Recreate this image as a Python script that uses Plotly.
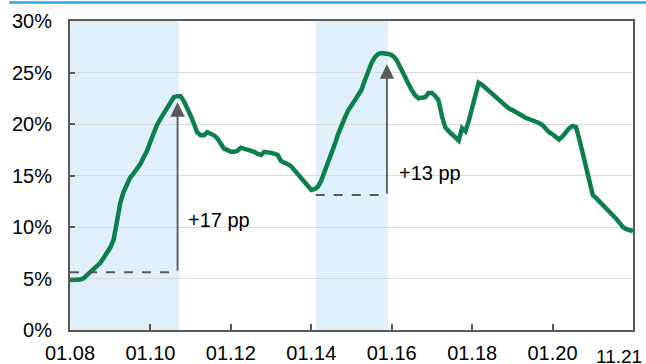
import pandas as pd
import plotly.graph_objects as go

# ---- data ----
start_month = "2008-01-01"
values = [
    4.85, 4.85, 4.9, 4.9, 5.0, 5.3, 5.5, 5.9, 6.2, 6.5,
    7.0, 7.5, 8.0, 8.8, 10.5, 12.3, 13.4, 14.2, 14.8, 15.2,
    15.6, 16.1, 16.8, 17.4, 18.3, 19.2, 19.9, 20.5, 21.0, 21.6,
    22.2, 22.6, 22.7, 22.7, 22.2, 21.6, 20.8, 20.0, 19.2, 18.9,
    18.9, 19.2, 19.1, 18.9, 18.6, 18.0, 17.6, 17.5, 17.3, 17.3,
    17.4, 17.7, 17.6, 17.6, 17.5, 17.3, 17.1, 17.0, 17.3, 17.3,
    17.2, 17.1, 17.0, 16.4, 16.3, 16.1, 15.9, 15.5, 15.1, 14.7,
    14.3, 13.9, 13.6, 13.7, 13.9, 14.5, 15.3, 16.2, 17.0, 18.0,
    19.0, 19.9, 20.6, 21.3, 21.9, 22.3, 22.8, 23.3, 24.2, 25.1,
    25.9, 26.5, 26.8, 26.9, 26.9, 26.8, 26.7, 26.4, 25.9, 25.3,
    24.6, 23.9, 23.3, 22.8, 22.5, 22.5, 22.6, 23.0, 23.0, 22.7,
    22.3, 20.8, 19.7, 19.3, 19.0, 18.6, 18.4, 19.6, 19.3, 20.3,
    21.5, 22.8, 24.0, 23.8, 23.5, 23.3, 23.0, 22.7, 22.3, 22.0,
    21.7, 21.5, 21.35, 21.2, 21.0, 20.8, 20.6, 20.5, 20.3, 20.2,
    20.1, 19.9, 19.5, 19.2, 19.0, 18.7, 18.5, 18.8, 19.2, 19.6,
    19.8, 19.7, 18.5, 17.1, 15.8, 14.4, 13.1, 12.8, 12.5, 12.2,
    11.9, 11.6, 11.2, 10.8, 10.4, 10.0, 9.8, 9.7, 9.6,
]
dates = pd.date_range(start_month, periods=len(values), freq="MS")

tick_dates = ["2008-01-01", "2010-01-01", "2012-01-01", "2014-01-01",
              "2016-01-01", "2018-01-01", "2020-01-01"]
tick_labels = ["01.08", "01.10", "01.12", "01.14", "01.16", "01.18", "01.20"]
last_label = "11.21"

shaded_periods = [("2008-01-01", "2010-09-15"), ("2014-02-10", "2015-11-28")]
# (x, base, top, label, label_x, label_y, dash_start)
changes = [
    ("2010-09-04", 5.6, 22.1, "+17 pp", "2010-11-18", 10.7, "2008-01-01"),
    ("2015-11-19", 13.1, 25.8, "+13 pp", "2016-02-15", 15.2, "2014-02-10"),
]

GREEN = "#0B7F4C"
GRAY = "#595959"
FONT = "Liberation Sans, Arial, sans-serif"
FS = 20

fig = go.Figure()
fig.add_trace(go.Scatter(x=dates, y=values, mode="lines",
                         line=dict(color=GREEN, width=4.5), hoverinfo="skip"))

shapes = []
for x0, x1 in shaded_periods:
    shapes.append(dict(type="rect", xref="x", yref="paper", x0=x0, x1=x1, y0=0, y1=1,
                       fillcolor="#DFF0FA", line=dict(width=0), layer="below"))

annotations = []
for x, base, top, label, lx, ly, dash_start in changes:
    shapes.append(dict(type="line", xref="x", yref="y", x0=dash_start, x1=x, y0=base, y1=base,
                       line=dict(color=GRAY, width=2, dash="dash")))
    annotations.append(dict(x=x, y=top, ax=x, ay=base, xref="x", yref="y",
                            axref="x", ayref="y", showarrow=True, arrowhead=2,
                            arrowsize=1.6, arrowwidth=1.8, arrowcolor=GRAY, text=""))
    annotations.append(dict(x=lx, y=ly, xref="x", yref="y", text=label, showarrow=False,
                            xanchor="left", yanchor="middle",
                            font=dict(family=FONT, size=FS, color="#000000")))

# label at the end of the axis
annotations.append(dict(x=0.975, y=-0.045, xref="paper", yref="paper", text=last_label,
                        showarrow=False, xanchor="center", yanchor="top",
                        font=dict(family=FONT, size=FS - 1, color="#000000")))

# top decorative line
shapes.append(dict(type="line", xref="paper", yref="paper", x0=-0.108, x1=1.03,
                   y0=1.06, y1=1.06, line=dict(color="#29ABE2", width=2.5)))

fig.update_layout(
    width=646, height=364,
    margin=dict(l=70, r=13, t=21, b=34, autoexpand=False),
    paper_bgcolor="white", plot_bgcolor="white",
    showlegend=False,
    shapes=shapes, annotations=annotations,
    font=dict(family=FONT, size=FS, color="#000000"),
)
fig.update_xaxes(
    type="date", range=["2008-01-01", "2022-01-01"],
    tickvals=tick_dates, ticktext=tick_labels,
    ticks="inside", ticklen=6, tickwidth=1.5, tickcolor=GRAY,
    showline=True, linecolor=GRAY, linewidth=2, mirror=True,
    showgrid=False, zeroline=False, ticklabelstandoff=4, automargin=False,
)
fig.update_yaxes(
    range=[0, 30], dtick=5, ticksuffix="%",
    ticks="inside", ticklen=5, tickwidth=1.5, tickcolor=GRAY,
    showline=True, linecolor=GRAY, linewidth=2, mirror=True,
    showgrid=True, gridcolor="#D9D9D9", gridwidth=1.3, zeroline=False,
    ticklabelstandoff=12, automargin=False,
)

fig.write_html("out.html", config={"displayModeBar": False},
               post_script="document.body.style.margin='0';document.body.style.overflow='hidden';")
